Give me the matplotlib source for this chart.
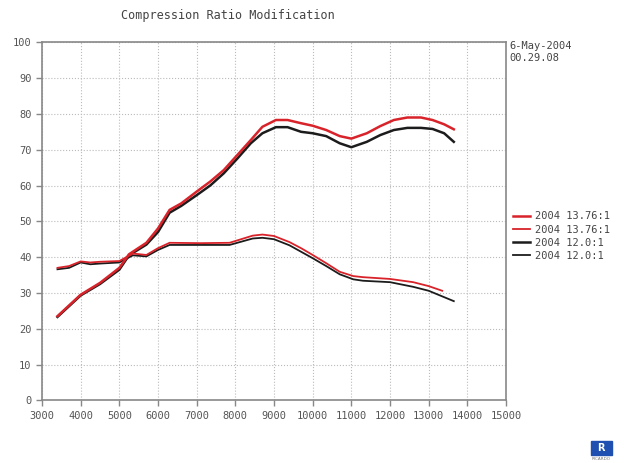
import matplotlib

matplotlib.use("Agg")
import matplotlib.pyplot as plt
from matplotlib.patches import Rectangle

RED, BLACK, GREY = "#d8232a", "#1c1c1c", "#555555"

# power-like curves (rise to ~78)
rpm_pw = [3400, 3700, 4000, 4500, 5000, 5250, 5700, 6000, 6300, 6600, 7000, 7350,
          7700, 8050, 8400, 8700, 9050, 9350, 9700, 10000, 10350, 10700, 11000,
          11400, 11750, 12100, 12450, 12800, 13100, 13400, 13650]
pw_1376 = [23.5, 26.5, 29.5, 32.8, 37.0, 40.8, 44.0, 48.0, 53.2, 55.0, 58.3, 61.1,
           64.3, 68.5, 72.7, 76.4, 78.3, 78.3, 77.4, 76.7, 75.5, 73.8, 73.1,
           74.6, 76.6, 78.3, 79.0, 79.0, 78.3, 77.1, 75.7]
pw_120 = [23.3, 26.3, 29.3, 32.5, 36.5, 40.5, 43.5, 47.0, 52.4, 54.3, 57.3, 60.0,
          63.4, 67.5, 71.8, 74.6, 76.3, 76.3, 75.0, 74.6, 73.8, 71.8, 70.7,
          72.2, 74.1, 75.5, 76.1, 76.1, 75.8, 74.6, 72.2]

# torque-like curves (flat ~40)
rpm_tq_1376 = [3400, 3700, 4000, 4250, 4500, 5000, 5350, 5700, 6000, 6300, 7100, 7850,
               8450, 8700, 9000, 9400, 9700, 10000, 10350, 10700, 11050, 11300, 12000,
               12600, 13000, 13350]
tq_1376 = [37.0, 37.5, 38.8, 38.5, 38.7, 38.9, 41.0, 40.6, 42.5, 44.0, 43.9, 44.0,
           46.0, 46.3, 45.9, 44.2, 42.5, 40.6, 38.3, 35.9, 34.7, 34.4, 33.9,
           33.0, 31.9, 30.6]
rpm_tq_120 = [3400, 3700, 4000, 4250, 4500, 5000, 5350, 5700, 6000, 6300, 7100, 7850,
              8450, 8700, 9000, 9400, 9700, 10000, 10350, 10700, 11050, 11300, 12000,
              12600, 13000, 13650]
tq_120 = [36.6, 37.0, 38.5, 38.0, 38.2, 38.5, 40.5, 40.2, 42.0, 43.4, 43.4, 43.4,
          45.2, 45.4, 45.0, 43.3, 41.5, 39.7, 37.5, 35.2, 33.8, 33.4, 33.0,
          31.7, 30.6, 27.7]

labels = ["2004 13.76:1", "2004 13.76:1", "2004 12.0:1", "2004 12.0:1"]
MONO = "DejaVu Sans Mono"

fig = plt.figure(figsize=(6.24, 4.63), dpi=100)
ax = fig.add_axes([0.0673, 0.1354, 0.7436, 0.7732])

l1, = ax.plot(rpm_pw, pw_1376, color=RED, lw=1.8, zorder=3)
l2, = ax.plot(rpm_tq_1376, tq_1376, color=RED, lw=1.3, zorder=3)
l3, = ax.plot(rpm_pw, pw_120, color=BLACK, lw=1.8)
l4, = ax.plot(rpm_tq_120, tq_120, color=BLACK, lw=1.3)

ax.set_xlim(3000, 15000)
ax.set_ylim(0, 100)
ax.set_xticks(range(3000, 15001, 1000))
ax.set_yticks(range(0, 101, 10))
ax.grid(True, color="#bbbbbb", linestyle=":", linewidth=0.8)
for s in ax.spines.values():
    s.set_color("#888888")
    s.set_linewidth(1.2)
ax.tick_params(colors="#888888", length=4, width=1, labelcolor=GREY, labelsize=7.5)
for t in ax.get_xticklabels() + ax.get_yticklabels():
    t.set_family(MONO)

fig.text(0.365, 1 - 16 / 463, "Compression Ratio Modification", ha="center", va="center",
         family=MONO, fontsize=8.5, color="#444444")
fig.text(509 / 624, 1 - 46 / 463, "6-May-2004", ha="left", va="center",
         family=MONO, fontsize=7.5, color="#444444")
fig.text(509 / 624, 1 - 58 / 463, "00.29.08", ha="left", va="center",
         family=MONO, fontsize=7.5, color="#444444")

leg = fig.legend([l1, l2, l3, l4], labels, loc="upper left",
                 bbox_to_anchor=(504 / 624, 1 - 202 / 463), frameon=False,
                 handlelength=1.6, handletextpad=0.5, labelspacing=0.3,
                 prop={"family": MONO, "size": 7.5})
for t in leg.get_texts():
    t.set_color("#444444")

# small blue logo at bottom right
fig.patches.append(Rectangle((591 / 624, 1 - 455 / 463), 21 / 624, 14 / 463,
                             transform=fig.transFigure, color="#1f4fb0"))
fig.text(601 / 624, 1 - 448 / 463, "R", ha="center", va="center", color="white",
         fontsize=7, fontweight="bold")
fig.text(601 / 624, 1 - 459 / 463, "RICARDO", ha="center", va="center", color="#777777",
         fontsize=3)

fig.savefig("out.png", dpi=100)
